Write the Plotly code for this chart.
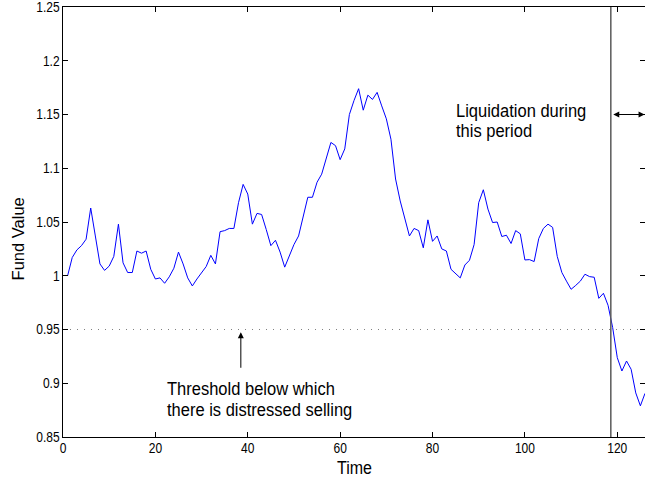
import plotly.graph_objects as go

# ---- data ----
time = list(range(1, 127))
fund_value = [
    1.000, 1.017, 1.024, 1.028, 1.034, 1.063, 1.037, 1.011, 1.005, 1.009,
    1.018, 1.048, 1.012, 1.003, 1.003, 1.023, 1.021, 1.023, 1.006, 0.997,
    0.998, 0.993, 0.999, 1.007, 1.022, 1.011, 0.998, 0.9905, 0.997, 1.003,
    1.0086, 1.019, 1.011, 1.041, 1.042, 1.044, 1.044, 1.068, 1.085, 1.076,
    1.048, 1.058, 1.057, 1.043, 1.028, 1.033, 1.022, 1.008, 1.018, 1.029,
    1.037, 1.054, 1.073, 1.073, 1.087, 1.0945, 1.109, 1.124, 1.121, 1.108,
    1.118, 1.150, 1.163, 1.174, 1.154, 1.168, 1.164, 1.1706, 1.158, 1.146,
    1.127, 1.090, 1.0696, 1.053, 1.037, 1.044, 1.042, 1.026, 1.052, 1.032,
    1.037, 1.025, 1.023, 1.006, 1.002, 0.998, 1.010, 1.0144, 1.029, 1.068,
    1.080, 1.062, 1.0495, 1.050, 1.0365, 1.0377, 1.030, 1.042, 1.039, 1.0147,
    1.015, 1.0132, 1.0346, 1.044, 1.048, 1.045, 1.018, 1.003, 0.995, 0.9874,
    0.991, 0.995, 1.0014, 0.9992, 0.9986, 0.979, 0.9837, 0.9725, 0.9518, 0.9238,
    0.9114, 0.9207, 0.913, 0.891, 0.879, 0.8906,
]
threshold = 0.95
liquidation_start = 118.6
x_ticks = [0, 20, 40, 60, 80, 100, 120]
y_ticks = [0.85, 0.9, 0.95, 1.0, 1.05, 1.1, 1.15, 1.2, 1.25]
y_tick_text = ["0.85", "0.9", "0.95", "1", "1.05", "1.1", "1.15", "1.2", "1.25"]
x_range = [0, 126]
y_range = [0.85, 1.25]

FONT = "Liberation Sans, Arial, Helvetica, sans-serif"

fig = go.Figure()
fig.add_trace(go.Scatter(x=time, y=fund_value, mode="lines",
                         line=dict(color="#0000ff", width=1), showlegend=False,
                         hoverinfo="skip"))
# threshold (dotted)
fig.add_trace(go.Scatter(x=x_range, y=[threshold, threshold], mode="lines",
                         line=dict(color="#808080", width=1, dash="1px,6px"),
                         showlegend=False, hoverinfo="skip"))
# invisible trace for right-side mirrored ticks
fig.add_trace(go.Scatter(x=[None], y=[None], yaxis="y2", showlegend=False,
                         hoverinfo="skip"))

fig.add_shape(type="line", x0=liquidation_start, x1=liquidation_start,
              y0=y_range[0], y1=y_range[1], xref="x", yref="y",
              line=dict(color="#5a5a5a", width=1.5))

tickfont = dict(family=FONT, size=12, color="black")
fig.update_layout(
    width=645, height=480,
    margin=dict(l=63, r=0, t=7, b=43, autoexpand=False),
    paper_bgcolor="white", plot_bgcolor="white",
    xaxis=dict(range=x_range, tickvals=x_ticks, ticks="inside", ticklen=5,
               tickcolor="black", showline=True, linecolor="black", linewidth=1,
               mirror="ticks", showgrid=False, zeroline=False, tickfont=tickfont,
               automargin=False, ticklabeloverflow="allow"),
    yaxis=dict(range=y_range, tickvals=y_ticks, ticktext=y_tick_text,
               ticks="inside", ticklen=5, tickcolor="black", showline=True,
               linecolor="black", linewidth=1, showgrid=False, zeroline=False,
               tickfont=tickfont, automargin=False, ticklabeloverflow="allow"),
    yaxis2=dict(range=y_range, tickvals=y_ticks, overlaying="y", side="right",
                ticks="inside", ticklen=5, tickcolor="black", showline=False,
                showticklabels=False, showgrid=False, zeroline=False,
                automargin=False),
)

ann_font = dict(family=FONT, size=16.5, color="black")
annotations = [
    dict(x=0.5, y=-0.07, xref="paper", yref="paper", text="Time",
         showarrow=False, font=dict(family=FONT, size=16, color="black"),
         xanchor="center", yanchor="middle"),
    dict(x=-0.077, y=0.46, xref="paper", yref="paper", text="Fund Value",
         textangle=-90, showarrow=False,
         font=dict(family=FONT, size=16.5, color="black"),
         xanchor="center", yanchor="middle"),
    dict(x=84.6, y=1.154, xref="x", yref="y", text="Liquidation during",
         showarrow=False, font=ann_font, xanchor="left", yanchor="middle"),
    dict(x=84.6, y=1.1355, xref="x", yref="y", text="this period",
         showarrow=False, font=ann_font, xanchor="left", yanchor="middle"),
    dict(x=22.1, y=0.8953, xref="x", yref="y", text="Threshold below which",
         showarrow=False, font=ann_font, xanchor="left", yanchor="middle"),
    dict(x=22.1, y=0.8757, xref="x", yref="y", text="there is distressed selling",
         showarrow=False, font=ann_font, xanchor="left", yanchor="middle"),
    # threshold arrow
    dict(x=38.5, y=0.9475, ax=38.5, ay=0.913, xref="x", yref="y",
         axref="x", ayref="y", text="", showarrow=True, arrowhead=2,
         arrowsize=1.2, arrowwidth=1, arrowcolor="black"),
    # liquidation double arrow
    dict(x=125.9, y=1.15, ax=118.8, ay=1.15, xref="x", yref="y",
         axref="x", ayref="y", text="", showarrow=True, arrowhead=2,
         startarrowhead=2, arrowside="end+start", arrowsize=1.2,
         startarrowsize=1.2, arrowwidth=1, arrowcolor="black"),
]
fig.update_layout(annotations=annotations)

# The reference's text is horizontally condensed (taller glyphs, same width):
# enlarge horizontal texts and squeeze them back to their original width.
squish_js = """
document.body.style.margin='0';
document.body.style.padding='0';
document.body.style.overflow='hidden';
try {
  var S = 0.87;
  var gd = document.getElementsByClassName('plotly-graph-div')[0];
  var texts = gd.querySelectorAll('text');
  for (var i = 0; i < texts.length; i++) {
    var t = texts[i];
    var s = t.textContent;
    if (!s || s === 'Fund Value') continue;
    if (t.querySelector('tspan')) continue;
    var w = t.getComputedTextLength();
    var fs = parseFloat(window.getComputedStyle(t).fontSize);
    if (!(w > 0) || !(fs > 0)) continue;
    var nfs = fs / S;
    t.style.fontSize = nfs + 'px';
    t.setAttribute('textLength', w);
    t.setAttribute('lengthAdjust', 'spacingAndGlyphs');
    var y = parseFloat(t.getAttribute('y') || '0');
    t.setAttribute('y', y + (nfs - fs) * 0.36);
  }
} catch (e) {}
"""

fig.write_html("out.html",
               config={"displayModeBar": False, "staticPlot": True},
               post_script=squish_js)
